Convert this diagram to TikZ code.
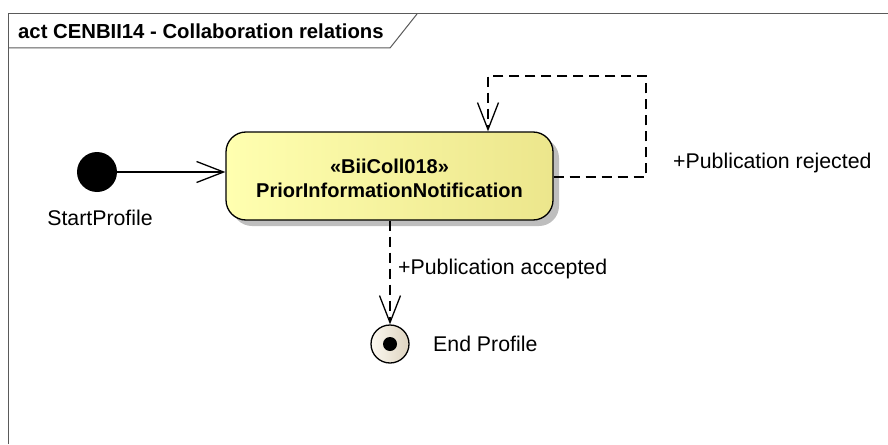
\documentclass[tikz,border=0pt]{standalone}
\usepackage{fontspec}
\setmainfont{Liberation Sans}
\usetikzlibrary{arrows.meta,shapes.geometric}
\definecolor{boxL}{RGB}{255,255,176}
\definecolor{boxR}{RGB}{236,230,140}
\definecolor{endL}{RGB}{252,248,240}
\definecolor{endR}{RGB}{222,212,192}
\definecolor{shadowgray}{RGB}{190,190,190}
\definecolor{framegray}{RGB}{90,90,90}
\tikzset{
  arr/.style={line width=1.3pt,-{Straight Barb[length=27pt,width=21pt,line width=1.3pt]}},
  dasharr/.style={arr,dash pattern=on 10pt off 6pt},
  lbl/.style={font=\fontsize{21.3}{24}\selectfont,inner sep=0pt},
  actbox/.style={draw,line width=1.3pt,rounded corners=20pt,minimum width=327pt,minimum height=88pt,
    left color=boxL,right color=boxR,inner sep=0pt},
  boxtext/.style={align=center,font=\fontsize{20}{24}\selectfont\bfseries,inner sep=0pt},
}
\begin{document}
\begin{tikzpicture}[x=1pt,y=-1pt]
\useasboundingbox (0,0) rectangle (888,444);
% frame
\draw[framegray,line width=1pt] (8,444) -- (8,14) -- (888,14);
\draw[framegray,line width=1pt] (417,14) -- (390,48) -- (8,48);
\node[anchor=west,inner sep=0pt,font=\fontsize{20.3}{24}\selectfont\bfseries] (title) at (18,31) {act CENBII14 - Collaboration relations};
% start
\node[circle,fill=black,minimum size=40pt,inner sep=0pt] (start) at (97,172) {};
\node[lbl] (startlbl) at (100,218) {StartProfile};
% activity box with shadow
\fill[shadowgray,rounded corners=20pt] (232,138) rectangle (559,226);
\node[actbox] (box) at (389.5,176) {};
\node[boxtext] (boxlbl) at (389.5,178.5) {«BiiColl018»\\PriorInformationNotification};
% end
\node[circle,draw,line width=1.3pt,minimum size=38pt,inner sep=0pt,left color=endL,right color=endR] (end) at (390,344) {};
\fill[black] (end.center) circle (7pt);
\node[lbl,anchor=west] (endlbl) at (433,344) {End Profile};
% connectors
\draw[arr] (start.east) -- (start.east -| box.west);
\coordinate (r1) at (646,177);
\coordinate (r2) at (646,76);
\coordinate (r3) at (488,76);
\draw[dasharr] (box.east |- r1) -- (r1) -- (r2) -- (r3) -- (r3 |- box.north);
\draw[dasharr] (end |- box.south) -- (end.north);
\node[lbl,anchor=west] (rej) at (673,163) {+Publication rejected};
\node[lbl,anchor=west] (acc) at (398,269) {+Publication accepted};
\end{tikzpicture}
\end{document}
